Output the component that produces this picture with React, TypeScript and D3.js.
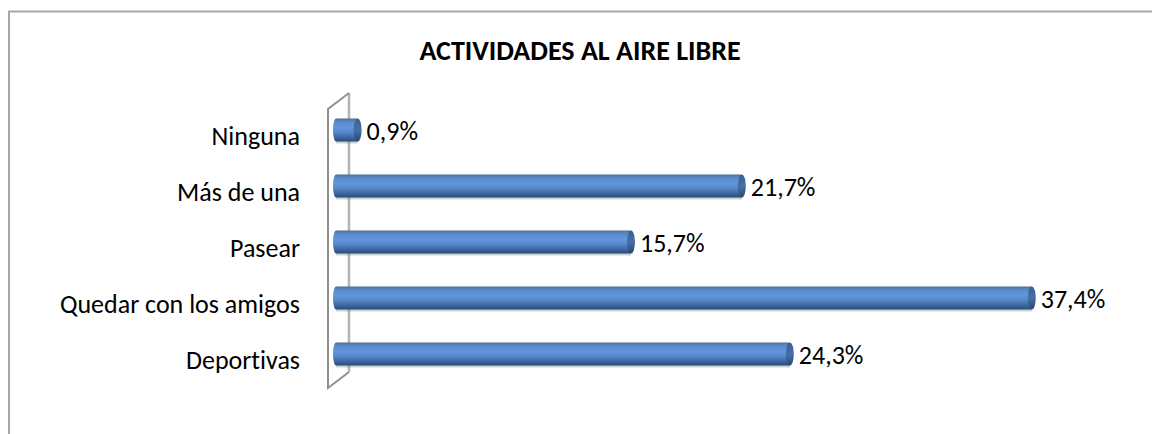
import React from "react";
import * as d3 from "d3";

const title = "ACTIVIDADES AL AIRE LIBRE";
const categories = ["Ninguna", "Más de una", "Pasear", "Quedar con los amigos", "Deportivas"];
const values = [0.9, 21.7, 15.7, 37.4, 24.3];
const valueLabels = ["0,9%", "21,7%", "15,7%", "37,4%", "24,3%"];

const W = 1152;
const H = 434;
const FONT = "Carlito, Lato, 'Liberation Sans', sans-serif";

export default function App() {
  const x = d3.scaleLinear().domain([0, 40]).range([341, 341 + 40 * 18.47]);
  const y = d3.scalePoint<string>().domain(categories).range([130, 354]);
  const barH = 23;
  const barStart = 336;
  const cap = 4;

  const frontX = 328, backX = 349;
  const topFront = 109, topBack = 93, botFront = 388, botBack = 372;
  const txtStyle = { fontVariantLigatures: "none" } as React.CSSProperties;

  return (
    <svg
      width={W}
      height={H}
      style={{ position: "absolute", left: 0, top: 0, background: "#fff" }}
    >
      <defs>
        <linearGradient id="barGrad" x1="0" y1="0" x2="0" y2="1">
          <stop offset="0" stopColor="#4a6e9e" />
          <stop offset="0.12" stopColor="#5887c4" />
          <stop offset="0.38" stopColor="#6297dc" />
          <stop offset="0.6" stopColor="#5386ca" />
          <stop offset="0.82" stopColor="#3e68a0" />
          <stop offset="1" stopColor="#2d4b73" />
        </linearGradient>
        <linearGradient id="capGrad" x1="0" y1="0" x2="0" y2="1">
          <stop offset="0" stopColor="#3a5f91" />
          <stop offset="0.5" stopColor="#4570a8" />
          <stop offset="1" stopColor="#2b4870" />
        </linearGradient>
      </defs>

      {/* outer border */}
      <path
        d={`M9,${H} L9,11.5 L${W},11.5`}
        fill="none"
        stroke="#a6a6a6"
        strokeWidth={2}
      />

      {/* title */}
      <text
        x={580}
        y={60}
        textAnchor="middle"
        fontFamily={FONT}
        fontWeight="bold"
        fontSize={28}
        fill="#000"
        style={txtStyle}
      >
        {title}
      </text>

      {/* back wall line */}
      <line x1={backX} y1={topBack} x2={backX} y2={botBack} stroke="#b3b3b3" strokeWidth={2.5} />

      {/* front wall */}
      <path
        d={`M${backX},${topBack} L${frontX},${topFront} L${frontX},${botFront} L${backX},${botBack}`}
        fill="none"
        stroke="#8f8f8f"
        strokeWidth={2}
      />

      {/* bars */}
      {categories.map((c, i) => {
        const cy = y(c) as number;
        const x1 = x(values[i]);
        const top = cy - barH / 2;
        return (
          <g key={c}>
            <rect x={barStart} y={top + 2} width={x1 - barStart} height={barH} fill="#6b7a8f" opacity={0.35} />
            <rect x={barStart} y={top} width={x1 - barStart} height={barH} fill="url(#barGrad)" />
            <ellipse cx={barStart} cy={cy} rx={3} ry={barH / 2} fill="url(#barGrad)" />
            <ellipse cx={x1} cy={cy} rx={cap} ry={barH / 2} fill="url(#capGrad)" />
            <text
              x={x1 + 9}
              y={cy + 10}
              fontFamily={FONT}
              fontSize={26}
              fill="#000"
              style={txtStyle}
            >
              {valueLabels[i]}
            </text>
            <text
              x={300}
              y={cy + 15}
              textAnchor="end"
              fontFamily={FONT}
              fontSize={26}
              fill="#000"
              style={txtStyle}
            >
              {c}
            </text>
          </g>
        );
      })}
    </svg>
  );
}
